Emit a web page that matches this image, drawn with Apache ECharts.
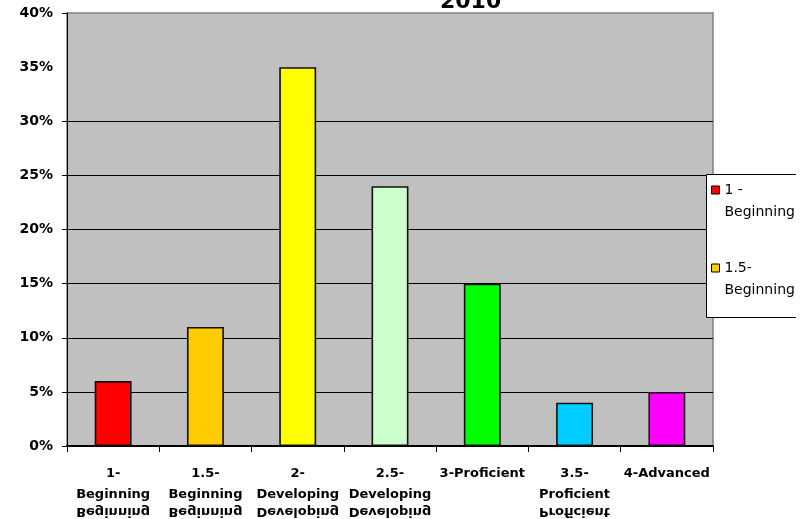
<!DOCTYPE html>
<html>
<head>
<meta charset="utf-8">
<script src="https://cdn.jsdelivr.net/npm/echarts@6/dist/echarts.min.js"></script>
<style>
  html, body { margin: 0; padding: 0; background: #ffffff; }
  #chart { width: 804px; height: 519px; }
</style>
</head>
<body>
<div id="chart"></div>
<script>
// Score bands and the share of students in each band
const categories = ['1-\nBeginning', '1.5-\nBeginning', '2-\nDeveloping', '2.5-\nDeveloping', '3-Proficient', '3.5-\nProficient', '4-Advanced'];
const legendNames = ['1 -\nBeginning', '1.5-\nBeginning', '2-\nDeveloping', '2.5-\nDeveloping', '3-Proficient', '3.5-\nProficient', '4-Advanced'];
const shares = [6, 11, 35, 24, 15, 4, 5];
const barColors = ['#FF0000', '#FFCC00', '#FFFF00', '#CCFFCC', '#00FF00', '#00CCFF', '#FF00FF'];
const yTickValues = [0, 5, 10, 15, 20, 25, 30, 40];
const titleText = '2010';

const chart = echarts.init(document.getElementById('chart'), null, { renderer: 'canvas' });

// One series per band, all on one stack so each bar sits centred in its own category
const series = categories.map((c, i) => ({
  name: legendNames[i],
  type: 'bar',
  stack: 'bands',
  barWidth: '40%',
  data: categories.map((_, j) => (j === i ? shares[i] : '-')),
  itemStyle: { color: barColors[i], borderColor: '#111', borderWidth: 1.6 },
  emphasis: { disabled: true }
}));

const option = {
  animation: false,
  backgroundColor: '#ffffff',
  title: {
    text: titleText,
    left: 440,
    top: -9,
    padding: 0,
    textStyle: { fontFamily: 'DejaVu Sans', fontWeight: 'bold', fontSize: 22, color: '#000' }
  },
  grid: {
    left: 67, right: 91, top: 13, bottom: 73,
    show: true,
    backgroundColor: '#C0C0C0',
    borderColor: '#808080',
    borderWidth: 1.5
  },
  legend: {
    data: legendNames.slice(0, 2),
    orient: 'vertical',
    left: 711,
    top: 157,
    padding: 0,
    itemGap: 12,
    itemWidth: 8,
    itemHeight: 8,
    icon: 'rect',
    selectedMode: false,
    z: 5,
    itemStyle: { borderColor: '#000', borderWidth: 1 },
    // leading empty line keeps the first text line level with the swatch
    formatter: name => '\n' + name,
    textStyle: { fontFamily: 'DejaVu Sans', fontSize: 14, color: '#000', lineHeight: 22 }
  },
  xAxis: {
    type: 'category',
    data: categories,
    axisLine: { lineStyle: { color: '#000', width: 2 } },
    axisTick: { show: true, alignWithLabel: false, length: 6, lineStyle: { color: '#000', width: 1 } },
    axisLabel: {
      interval: 0,
      margin: 17,
      fontFamily: 'DejaVu Sans', fontWeight: 'bold', fontSize: 13, color: '#000',
      lineHeight: 21
    },
    splitLine: { show: false }
  },
  yAxis: {
    type: 'value',
    min: 0, max: 40, interval: 5,
    axisLine: { show: true, lineStyle: { color: '#000', width: 1 } },
    axisTick: { show: true, length: 5, lineStyle: { color: '#000' }, customValues: yTickValues },
    axisLabel: {
      margin: 14,
      formatter: '{value}%',
      fontFamily: 'DejaVu Sans', fontWeight: 'bold', fontSize: 14, color: '#000'
    },
    splitLine: {
      show: true,
      lineStyle: {
        width: 1,
        color: ['#000', '#000', '#000', '#000', '#000', '#000', '#000', 'rgba(0,0,0,0)', '#808080']
      }
    }
  },
  series: series
};

chart.setOption(option);

// Legend frame: open on the right where it runs off the page
const boxL = 706, boxT = 174, boxR = 796, boxB = 318;
const graphics = [
  { type: 'rect', z: 3, silent: true, shape: { x: boxL, y: boxT, width: boxR - boxL, height: boxB - boxT }, style: { fill: '#fff' } },
  { type: 'polyline', z: 3, silent: true, shape: { points: [[boxR, boxT + 0.5], [boxL + 0.5, boxT + 0.5], [boxL + 0.5, boxB - 0.5], [boxR, boxB - 0.5]] }, style: { stroke: '#000', lineWidth: 1, fill: null } }
];

// Reflected copy of each second label line, just under it
const line2Y = 495, mirrorY = 503;
categories.forEach((c, i) => {
  const parts = c.split('\n');
  if (parts.length < 2) return;
  const x = chart.convertToPixel({ xAxisIndex: 0 }, i);
  graphics.push({
    type: 'text', z: 3, silent: true,
    x: x, y: mirrorY, scaleY: -1,
    style: {
      text: parts[1], x: 0, y: line2Y - mirrorY,
      align: 'center', verticalAlign: 'middle',
      fontFamily: 'DejaVu Sans', fontWeight: 'bold', fontSize: 13, fill: '#000'
    }
  });
});

chart.setOption({ graphic: graphics });
</script>
</body>
</html>
